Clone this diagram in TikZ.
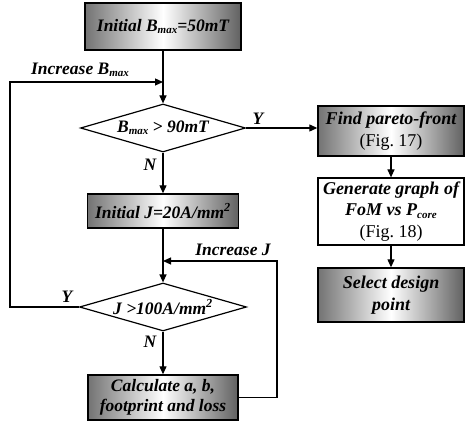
\documentclass[tikz,border=0pt]{standalone}
\usepackage{fontspec}
\setmainfont{Liberation Serif}
\usetikzlibrary{arrows.meta,shapes.geometric}

\tikzset{
  graybox/.style={draw, line width=1.4pt, left color=black!55, right color=black!62, middle color=white, align=center, inner sep=1pt},
  whitebox/.style={draw, line width=1.2pt, fill=white, align=center, inner sep=1pt},
  decision/.style={diamond, draw, line width=1.2pt, aspect=3.4, inner sep=0pt},
  flow/.style={line width=1.2pt, -{Triangle[length=8pt,width=7pt]}},
  lbl/.style={inner sep=1pt},
  sidetext/.style={font=\fontsize{18}{21.5}\selectfont\bfseries\itshape},
}
\newcommand{\figref}[1]{{\normalfont\fontsize{18}{21.5}\selectfont(Fig.~#1)}}
\newcommand{\lowsub}[1]{\raisebox{-0.3ex}{\fontsize{11}{11}\selectfont #1}}

\begin{document}
\begin{tikzpicture}[x=1pt,y=1pt,every node/.style={font=\fontsize{17.5}{20}\selectfont\bfseries\itshape}]

\useasboundingbox (0,0) rectangle (465,423) ;

\node[graybox, minimum width=156pt, minimum height=47pt] (initB) at (163,396.5) {Initial B\lowsub{max}=50mT} ;
\node[decision, minimum width=165pt, minimum height=48pt] (decB) at (163,295) {B\lowsub{max} \textgreater{} 90mT} ;
\node[graybox, minimum width=151pt, minimum height=34pt] (initJ) at (163,212) {Initial J=20A/mm\textsuperscript{2}} ;
\node[decision, minimum width=167pt, minimum height=48pt] (decJ) at (163,116) {J \textgreater100A/mm\textsuperscript{2}} ;
\node[graybox, minimum width=150pt, minimum height=45pt] (calc) at (163,25.5) {Calculate a, b,\\footprint and loss} ;

\node[graybox, sidetext, minimum width=146pt, minimum height=50pt] (pareto) at (391,292) {Find pareto-front\\\figref{17}} ;
\node[whitebox, sidetext, minimum width=146pt, minimum height=67pt] (graph) at (391,211.5) {Generate graph of\\FoM vs P\lowsub{core}\\\figref{18}} ;
\node[graybox, sidetext, minimum width=146pt, minimum height=54pt] (select) at (391,128) {Select design\\point} ;

\coordinate (cornerB) at (10,341) ;
\coordinate (joinB) at (163,341) ;
\coordinate (cornerJ) at (277,162) ;
\coordinate (joinJ) at (163,162) ;

\draw[flow] (initB.south) -- (decB.north) ;
\draw[flow] (decB.south) -- (initJ.north) ;
\draw[flow] (initJ.south) -- (decJ.north) ;
\draw[flow] (decJ.south) -- (calc.north) ;
\draw[flow] (decJ.west) -| (cornerB) -- (joinB) ;
\draw[flow] (calc.east) -| (cornerJ) -- (joinJ) ;
\draw[flow] (decB.east) -- (decB.east -| pareto.west) ;
\draw[flow] (pareto.south) -- (graph.north) ;
\draw[flow] (graph.south) -- (select.north) ;

\node[lbl] (incB) at (80,353) {Increase B\lowsub{max}} ;
\node[lbl] (incJ) at (233,173) {Increase J} ;
\node[lbl] (yesB) at (258,304) {Y} ;
\node[lbl] (noB) at (150,258) {N} ;
\node[lbl] (yesJ) at (67,126) {Y} ;
\node[lbl] (noJ) at (150,81) {N} ;

\end{tikzpicture}
\end{document}
